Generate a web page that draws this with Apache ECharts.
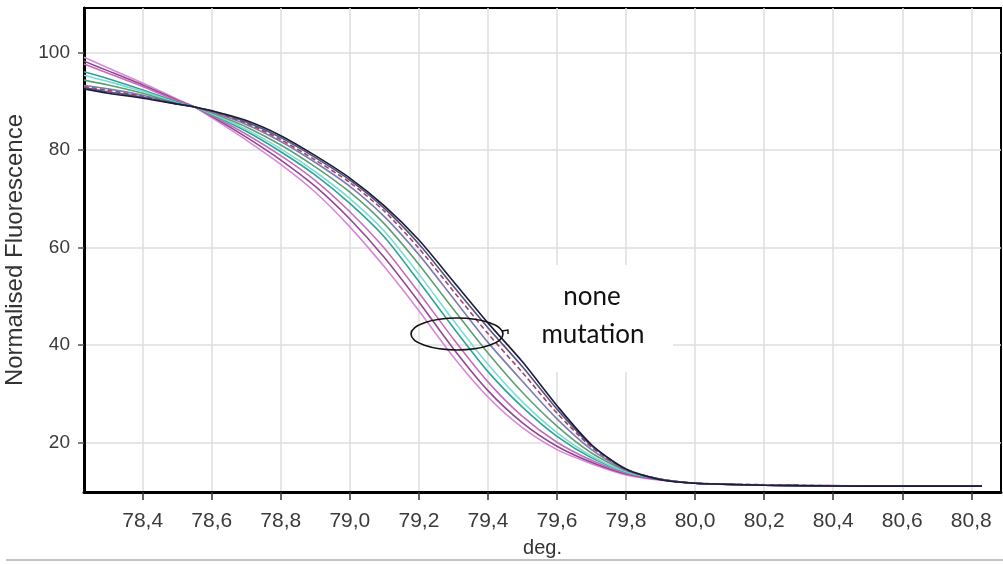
<!DOCTYPE html>
<html>
<head>
<meta charset="utf-8">
<script src="https://cdn.jsdelivr.net/npm/echarts@6/dist/echarts.min.js"></script>
<style>
html,body{margin:0;padding:0;background:#ffffff;}
#chart{width:1003px;height:564px;}
</style>
</head>
<body>
<div id="chart"></div>
<script>
// Temperatures (deg.) at which each melt curve is sampled
const temps = [78.23, 78.3, 78.4, 78.5, 78.55, 78.6, 78.7, 78.8, 78.9, 79.0, 79.1, 79.2, 79.3, 79.4, 79.5, 79.6, 79.7, 79.8, 79.9, 80.0, 80.2, 80.3, 80.5, 80.83];

// Normalised fluorescence of each curve (left-most / lowest curve first)
const curvePink    = [99.0, 96.8, 93.7, 90.4, 88.8, 86.6, 82.0, 77.0, 71.3, 64.2, 56.0, 47.0, 37.5, 29.3, 23.0, 18.5, 15.6, 13.3, 12.2, 11.6, 11.2, 11.1, 11.0, 11.0];
const curvePurple  = [98.2, 96.2, 93.3, 90.2, 88.8, 86.9, 82.6, 77.9, 72.5, 65.8, 57.9, 48.8, 39.2, 30.6, 24.0, 19.2, 15.9, 13.5, 12.3, 11.6, 11.2, 11.2, 11.0, 11.0];
const curveMagenta = [97.6, 95.7, 93.0, 90.0, 88.8, 87.1, 83.2, 78.8, 73.7, 67.3, 59.8, 50.7, 41.2, 32.4, 25.3, 20.0, 16.3, 13.7, 12.4, 11.6, 11.2, 11.1, 11.0, 11.0];
const curveTeal    = [96.0, 94.6, 92.3, 89.8, 88.8, 87.3, 83.8, 79.6, 74.8, 69.0, 62.1, 53.0, 43.5, 34.5, 27.2, 21.2, 16.8, 13.9, 12.4, 11.6, 11.2, 11.1, 11.0, 11.0];
const curveCyan    = [95.3, 94.0, 92.0, 89.6, 88.8, 87.4, 84.2, 80.2, 75.5, 70.0, 63.3, 54.5, 45.0, 36.0, 28.3, 22.0, 17.2, 14.0, 12.4, 11.6, 11.3, 11.2, 11.0, 11.0];
const curveGreen   = [94.3, 93.3, 91.6, 89.5, 88.8, 87.6, 84.7, 81.0, 76.5, 71.3, 64.8, 56.5, 47.3, 38.3, 30.2, 23.3, 17.8, 14.2, 12.4, 11.6, 11.2, 11.1, 11.0, 11.0];
const curveSlate   = [93.2, 92.5, 91.2, 89.5, 88.8, 87.8, 85.2, 81.7, 77.4, 72.5, 66.3, 58.5, 49.5, 40.5, 32.5, 24.8, 18.5, 14.3, 12.4, 11.6, 11.2, 11.1, 11.0, 11.0];
const curveMaroon  = [93.0, 92.2, 91.0, 89.4, 88.8, 87.9, 85.5, 82.1, 77.9, 73.3, 67.4, 59.8, 51.0, 42.3, 34.3, 26.0, 19.0, 14.4, 12.4, 11.6, 11.3, 11.2, 11.0, 11.0];
const curveGray    = [92.8, 91.9, 90.8, 89.4, 88.8, 88.0, 85.7, 82.5, 78.4, 73.8, 68.0, 60.7, 52.0, 43.5, 35.5, 26.8, 19.3, 14.5, 12.4, 11.6, 11.2, 11.1, 11.0, 11.0];
const curveNavy    = [92.5, 91.6, 90.6, 89.4, 88.8, 88.0, 86.0, 82.9, 78.8, 74.2, 68.5, 61.5, 53.0, 44.5, 36.5, 27.5, 19.5, 14.5, 12.3, 11.6, 11.2, 11.1, 11.0, 11.0];

const curveNames = ['pink', 'purple', 'magenta', 'teal', 'cyan', 'green', 'slate', 'maroon', 'gray', 'navy'];
const curveValues = [curvePink, curvePurple, curveMagenta, curveTeal, curveCyan, curveGreen, curveSlate, curveMaroon, curveGray, curveNavy];

// Axis ticks
const xTicks = [78.4, 78.6, 78.8, 79.0, 79.2, 79.4, 79.6, 79.8, 80.0, 80.2, 80.4, 80.6, 80.8];
const yTicks = [20, 40, 60, 80, 100];

// Styling (kept separate from the data)
const curveColors = ['#d987d6', '#8e4a8e', '#c66cbe', '#2fa396', '#7adcd4', '#5f9f70', '#7d7db3', '#a3446e', '#55557a', '#1b1b3d'];
const curveDashed = [false, false, false, false, false, false, false, true, false, false];

const chart = echarts.init(document.getElementById('chart'), null, {renderer: 'canvas'});

const series = curveValues.map((vals, k) => ({
  name: curveNames[k],
  type: 'line',
  data: temps.map((t, i) => [t, vals[i]]),
  smooth: 0.25,
  showSymbol: false,
  symbol: 'none',
  lineStyle: {color: curveColors[k], width: 1.6, type: curveDashed[k] ? [5, 3] : 'solid'},
  z: 2 + k * 0.01,
  silent: true,
  animation: false
}));

const fmt = v => v.toFixed(1).replace('.', ',');

chart.setOption({
  animation: false,
  backgroundColor: '#ffffff',
  grid: {left: 84, right: 2, top: 8, bottom: 72, outerBoundsMode: 'none', containLabel: false, show: true, borderColor: '#000', borderWidth: 2, backgroundColor: '#ffffff'},
  xAxis: {
    type: 'value',
    min: 78.23,
    max: 80.886,
    name: 'deg.',
    nameLocation: 'middle',
    nameGap: 46,
    nameTextStyle: {fontFamily: 'Liberation Sans', fontSize: 20, color: '#333'},
    axisLine: {show: true, onZero: false, lineStyle: {color: '#000', width: 3}},
    axisTick: {show: true, customValues: xTicks, length: 8, lineStyle: {color: '#333', width: 1.5}},
    axisLabel: {customValues: xTicks, formatter: fmt, fontFamily: 'Liberation Sans', fontSize: 21, color: '#3a3a3a', margin: 19},
    splitLine: {show: true, lineStyle: {color: '#dedede', width: 1.5}}
  },
  yAxis: {
    type: 'value',
    min: 9.8,
    max: 109.1,
    name: 'Normalised Fluorescence',
    nameLocation: 'middle',
    nameGap: 50,
    nameTextStyle: {fontFamily: 'Liberation Sans', fontSize: 24, color: '#333'},
    axisLine: {show: true, onZero: false, lineStyle: {color: '#000', width: 3}},
    axisTick: {show: true, customValues: yTicks, length: 6, lineStyle: {color: '#555', width: 1.5}},
    axisLabel: {customValues: yTicks, fontFamily: 'Liberation Sans', fontSize: 19, color: '#3a3a3a', margin: 14},
    splitLine: {show: true, lineStyle: {color: '#dedede', width: 1.5}}
  },
  series: series,
  graphic: [
    {type: 'rect', shape: {x: 510, y: 265, width: 163, height: 107}, style: {fill: '#ffffff'}, z: 1, silent: true},
    {type: 'ellipse', shape: {cx: 457, cy: 334, rx: 46, ry: 16}, style: {fill: 'none', stroke: '#111', lineWidth: 1.6}, z: 10, silent: true},
    {type: 'polyline', shape: {points: [[502, 331], [508, 330], [508, 334]]}, style: {fill: 'none', stroke: '#111', lineWidth: 1.4}, z: 10, silent: true},
    {type: 'text', x: 592, y: 297, style: {text: 'none', font: '26px Lato', fill: '#111', align: 'center', verticalAlign: 'middle'}, z: 10, silent: true},
    {type: 'text', x: 593, y: 335, style: {text: 'mutation', font: '26px Lato', fill: '#111', align: 'center', verticalAlign: 'middle'}, z: 10, silent: true},
    {type: 'line', shape: {x1: 6, y1: 560, x2: 1003, y2: 560}, style: {stroke: '#c4c4c4', lineWidth: 2}, z: 10, silent: true}
  ]
});
</script>
</body>
</html>
